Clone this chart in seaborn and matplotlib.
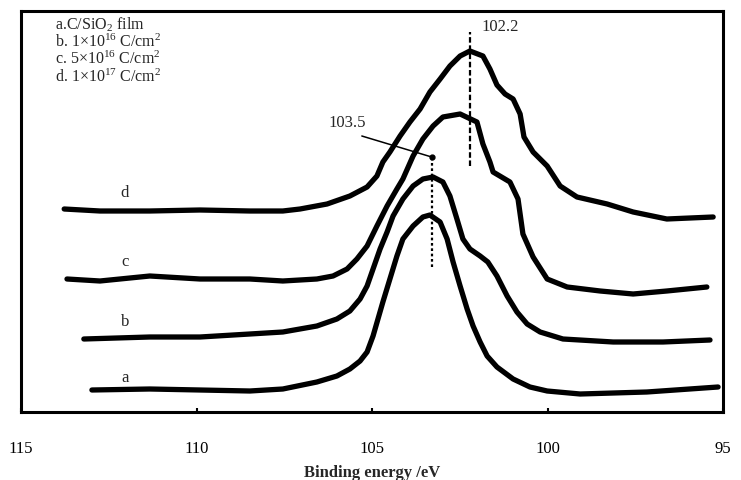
import numpy as np
import pandas as pd
import matplotlib
matplotlib.use("Agg")
import matplotlib.pyplot as plt
import seaborn as sns

# ---------------- data ----------------
# binding energy (eV) and intensity (arb. units) for each spectrum
energy_a = [112.98, 111.33, 109.90, 108.48, 107.54, 106.57, 106.00, 105.63, 105.34, 105.14,
            104.97, 104.83, 104.69, 104.49, 104.29, 104.12, 103.83, 103.55, 103.35, 103.06,
            102.86, 102.69, 102.49, 102.29, 102.12, 101.92, 101.72, 101.44, 100.98, 100.50,
            100.01, 99.07, 97.17, 95.14]
inten_a = [22, 23, 22, 21, 23, 30, 36, 43, 51, 60,
           76, 93, 110, 133, 156, 173, 186, 195, 197, 190,
           173, 150, 126, 103, 86, 70, 56, 45, 33, 25,
           21, 18, 20, 25]

energy_b = [113.21, 111.33, 109.90, 108.48, 107.54, 106.57, 106.00, 105.63, 105.34, 105.14,
            104.97, 104.77, 104.57, 104.40, 104.12, 103.83, 103.55, 103.26, 102.98, 102.78,
            102.58, 102.41, 102.21, 101.92, 101.70, 101.44, 101.15, 100.87, 100.58, 100.21,
            99.56, 98.13, 96.71, 95.37]
inten_b = [73, 75, 75, 78, 80, 86, 93, 101, 113, 126,
           143, 163, 180, 196, 213, 226, 233, 235, 230, 216,
           193, 173, 163, 156, 150, 136, 116, 100, 88, 80,
           73, 70, 70, 72]

energy_c = [113.69, 112.75, 111.33, 109.90, 108.48, 107.54, 106.57, 106.11, 105.71, 105.43,
            105.14, 104.86, 104.57, 104.29, 104.12, 103.83, 103.55, 103.26, 102.98, 102.49,
            102.01, 101.84, 101.64, 101.55, 101.07, 100.84, 100.70, 100.41, 100.01, 99.44,
            98.50, 97.56, 96.60, 95.46]
inten_c = [133, 131, 136, 133, 133, 131, 133, 136, 143, 153,
           166, 186, 206, 223, 233, 256, 273, 286, 295, 298,
           290, 268, 250, 240, 230, 213, 178, 155, 133, 125,
           121, 118, 121, 125]

energy_d = [113.77, 112.75, 111.33, 109.90, 108.48, 107.54, 107.05, 106.28, 105.63, 105.14,
            104.86, 104.69, 104.49, 104.20, 103.92, 103.63, 103.35, 103.06, 102.78, 102.49,
            102.21, 101.84, 101.64, 101.44, 101.21, 100.98, 100.78, 100.67, 100.41, 100.01,
            99.64, 99.16, 98.30, 97.56, 96.60, 95.28]
inten_d = [203, 201, 201, 202, 201, 201, 203, 208, 216, 225,
           236, 250, 260, 276, 290, 303, 320, 333, 346, 356,
           361, 356, 343, 327, 318, 313, 298, 275, 260, 246,
           226, 215, 208, 200, 193, 195]

sample_names = ["a", "b", "c", "d"]
legend_lines = ["a.C/SiO$_2$ film",
                "b. 1×10$^{16}$ C/cm$^2$",
                "c. 5×10$^{16}$ C/cm$^2$",
                "d. 1×10$^{17}$ C/cm$^2$"]
label_energy = 112.04
label_inten = [35, 91, 151, 220]

x_ticks = [115, 110, 105, 100, 95]
x_ticklabels = ["115", "110", "105", "100", "95"]
x_label = "Binding energy /eV"

peak1_value = "103.5"
peak1_pos = 103.3
peak1_span = [145, 255]
peak1_text = (105.71, 290)
peak1_arrow_start = (105.29, 276)

peak2_value = "102.2"
peak2_pos = 102.2
peak2_span = [246, 380]
peak2_text = (101.35, 386)

# ---------------- build table ----------------
frames = []
for name, e, i in zip(sample_names, [energy_a, energy_b, energy_c, energy_d],
                      [inten_a, inten_b, inten_c, inten_d]):
    frames.append(pd.DataFrame({"energy": e, "intensity": i, "sample": name}))
df = pd.concat(frames, ignore_index=True)

# ---------------- style ----------------
sns.set_theme(style="white")
plt.rcParams["font.family"] = ["Liberation Serif", "DejaVu Serif"]
plt.rcParams["mathtext.fontset"] = "custom"
plt.rcParams["mathtext.rm"] = "Liberation Serif"
plt.rcParams["mathtext.it"] = "Liberation Serif:italic"
plt.rcParams["mathtext.bf"] = "Liberation Serif:bold"

fig = plt.figure(figsize=(7.41, 4.81), dpi=100)
ax = fig.add_axes([21 / 741, 68 / 481, 702 / 741, 401 / 481])

sns.lineplot(data=df, x="energy", y="intensity", hue="sample",
             palette=["black"] * 4, estimator=None, sort=False,
             legend=False, linewidth=3.8, ax=ax,
             solid_capstyle="round", solid_joinstyle="round")

ax.set_xlim(115, 95)
ax.set_ylim(0, 401)
ax.set_yticks([])
ax.set_xticks(x_ticks)
ax.set_xticklabels(x_ticklabels, fontsize=12)
ax.tick_params(axis="x", direction="in", length=3, width=1.5, pad=20,
               colors="black", bottom=True)
ax.set_xlabel(x_label, fontsize=12, fontweight="bold", labelpad=6)
ax.set_ylabel("")
for sp in ax.spines.values():
    sp.set_color("black")
    sp.set_linewidth(2.2)

# curve labels
for name, yi in zip(sample_names, label_inten):
    ax.text(label_energy, yi, name, fontsize=12, ha="center", va="center")

# legend-like text block
for k, line in enumerate(legend_lines):
    ax.text((55 - 21) / 702, 1 - (25 + 17.3 * k - 12) / 401, line,
            transform=ax.transAxes, fontsize=11.5, ha="left", va="center")

# peak markers
ax.plot([peak2_pos, peak2_pos], peak2_span, color="black", lw=1.6,
        ls=(0, (2.5, 1.2)))
ax.plot([peak1_pos, peak1_pos], peak1_span, color="black", lw=1.6,
        ls=(0, (1.2, 1.2)))
ax.plot([peak1_arrow_start[0], peak1_pos], [peak1_arrow_start[1], peak1_span[1]],
        color="black", lw=1.1)
ax.plot([peak1_pos], [peak1_span[1]], "o", color="black", ms=3.5)
ax.text(peak1_text[0], peak1_text[1], peak1_value, fontsize=12,
        ha="center", va="center")
ax.text(peak2_text[0], peak2_text[1], peak2_value, fontsize=12,
        ha="center", va="center")

fig.savefig("out.png", dpi=100)
